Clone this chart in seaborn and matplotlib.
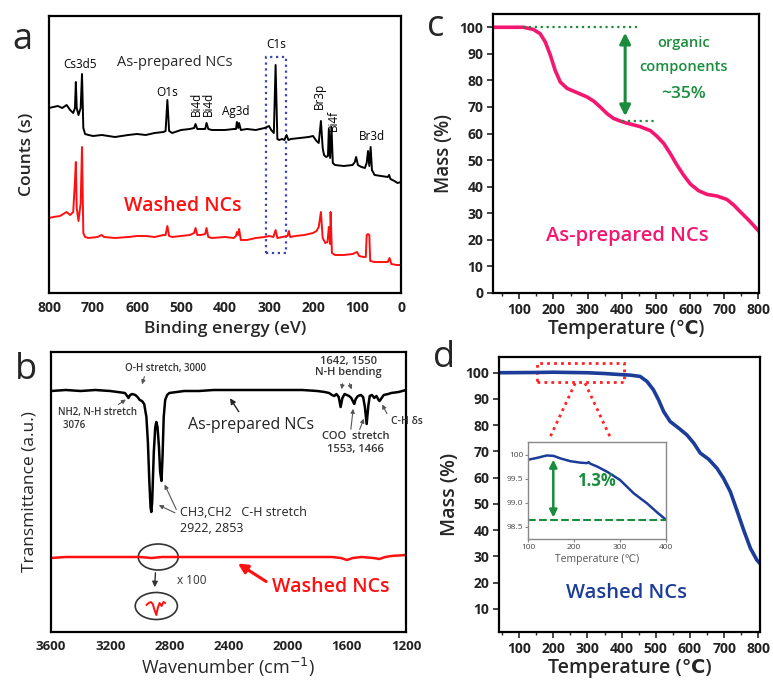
import matplotlib
matplotlib.use("Agg")
import matplotlib.pyplot as plt
import seaborn as sns
from matplotlib.patches import Rectangle, Ellipse
from matplotlib.ticker import MultipleLocator

# ---------------- data ----------------
# (a) XPS survey, binding energy (eV) vs counts (arb.)
a_black_E = [800,790,780,770,760,752,745,741,739,737,733,728,725,722,718,710,700,680,650,620,600,580,560,540,535,531,527,520,500,480,470,467,463,455,445,442,438,430,400,380,375,373,370,368,364,350,330,310,300,295,289,285,281,277,270,265,260,256,250,230,210,200,192,187,182,178,175,170,166,164,161,158,155,150,130,110,105,102,98,90,82,78,75,72,69,66,60,45,30,27,24,15,8,0]
a_black_C = [185,186,187,185,188,183,180,185,211,185,178,185,219,165,159,158,157,158,156,158,159,158,160,161,162,193,162,160,163,164,165,169,164,164,164,170,164,163,163,164,164,171,165,170,163,164,163,165,167,163,160,228,154,153,154,153,158,153,154,155,156,157,152,150,172,145,138,136,137,164,135,166,130,128,127,128,131,136,128,126,125,130,142,127,146,123,118,117,116,118,114,112,110,111]
a_red_E = [800,790,775,760,752,745,741,739,737,733,728,725,722,718,710,690,680,675,650,620,600,580,560,540,535,531,527,520,500,480,470,467,463,455,445,442,438,430,400,380,375,373,370,368,364,350,330,310,300,290,285,281,270,258,255,252,240,220,200,192,187,182,178,172,167,164,161,160,157,150,130,110,100,95,85,80,78,75,72,70,60,45,30,26,22,10,0]
a_red_C = [75,76,77,81,78,81,112,131,85,72,90,146,60,56,55,56,58,56,55,56,57,57,56,58,58,67,57,56,57,58,60,65,58,58,59,65,56,55,56,55,57,61,58,64,53,53,55,56,57,56,63,55,56,57,62,56,57,58,60,62,66,81,55,50,51,66,49,81,40,38,38,39,41,37,36,36,58,59,58,32,31,31,31,35,29,28,28]
a_ticks = [800, 700, 600, 500, 400, 300, 200, 100, 0]

# (b) FTIR, wavenumber (cm-1) vs transmittance (arb.)
b_black_W = [3600,3500,3400,3300,3200,3150,3100,3085,3076,3065,3050,3030,3015,3000,2985,2970,2955,2945,2935,2927,2922,2916,2905,2895,2888,2880,2870,2862,2853,2846,2838,2828,2815,2800,2750,2700,2600,2500,2400,2300,2200,2100,2000,1900,1800,1750,1720,1700,1685,1670,1655,1642,1630,1615,1600,1585,1570,1560,1550,1540,1525,1505,1490,1478,1466,1455,1445,1430,1415,1400,1385,1378,1365,1350,1320,1300,1250,1200]
b_black_T = [241,242,241,242,241,240,239,236,234,237,238,237,235,232,231,228,215,190,150,125,120,130,180,205,210,205,185,160,151,175,215,232,237,239,240,241,241,242,242,242,242,242,242,242,241,240,239,237,236,238,235,225,234,238,237,236,234,231,228,233,236,237,235,225,208,226,236,237,234,236,232,231,234,237,238,239,240,242]
b_red_W = [3600,3500,3400,3300,3200,3100,3000,2920,2850,2700,2500,2300,2100,1900,1700,1640,1600,1560,1500,1420,1380,1340,1300,1200]
b_red_T = [74,75,75,75,75,75,75,74,75,75,75,75,75,75,75,74,72,74,75,74,73,75,76,77]
b_zoom_W = [2955,2940,2925,2912,2900,2888,2878,2866,2852,2840,2828]
b_zoom_T = [27,29,30,28,22,17,24,29,26,30,29]
b_ticks = [3600, 3200, 2800, 2400, 2000, 1600, 1200]

# (c) TGA as-prepared NCs
c_temp = [23,112,141,161,176,191,205,220,240,269,298,318,337,357,376,396,415,425,454,484,503,523,542,562,581,601,625,650,679,708,728,747,772,802]
c_mass = [100,100,99.2,97.6,94.5,89.5,83.8,79.4,77.0,75.4,73.8,72.2,70.0,67.5,65.7,64.7,63.9,63.6,62.6,61.1,59.0,56.3,52.5,48.1,44.4,41.0,38.5,37.1,36.5,35.2,33.1,30.6,27.4,23.2]

# (d) TGA washed NCs
d_temp = [41,150,200,250,300,350,396,425,454,474,493,508,523,542,567,591,611,630,655,679,698,718,737,757,777,796,805]
d_mass = [100,100.1,100.2,100.1,100,99.7,99.3,99.1,98.6,96.7,93.5,89.7,85.2,81.4,78.9,76.3,73.2,69.4,67.0,63.6,59.8,54.7,47.7,40.1,33.1,28.6,27.3]
d_in_temp = [100,120,141,156,170,192,214,228,232,235,250,272,300,330,359,380,400]
d_in_mass = [99.90,99.94,99.99,99.98,99.93,99.87,99.84,99.83,99.85,99.82,99.76,99.65,99.48,99.20,98.99,98.81,98.65]
tga_ticks = [100, 200, 300, 400, 500, 600, 700, 800]

# ---------------- style ----------------
sns.set_theme(style="ticks")
plt.rcParams['font.family'] = ['Open Sans', 'DejaVu Sans']
plt.rcParams['axes.linewidth'] = 1.6
plt.rcParams['axes.edgecolor'] = 'black'
plt.rcParams['lines.solid_joinstyle'] = 'round'
plt.rcParams['lines.solid_capstyle'] = 'round'

W, H = 773, 696
fig = plt.figure(figsize=(W / 100, H / 100), dpi=100)


def rect(x0, y0, x1, y1):
    return [x0 / W, 1 - y1 / H, (x1 - x0) / W, (y1 - y0) / H]


TICKFS = 10
LABFS = 12.5
TW = 'bold'
GREEN = '#1a8c3c'
PINK = '#f5166f'
BLUE = '#1c3c9a'
GRAY = '#333333'
TCOL = '#222222'

# ---------------- (a) ----------------
axa = fig.add_axes(rect(49, 16, 401, 293))
sns.lineplot(x=a_black_E, y=a_black_C, ax=axa, color='black', lw=1.4, estimator=None, sort=False)
sns.lineplot(x=a_red_E, y=a_red_C, ax=axa, color='#ff1010', lw=1.4, estimator=None, sort=False)
axa.set_xlim(800, 0)
axa.set_ylim(0, 277)
axa.set_xticks(a_ticks, labels=[str(t) for t in a_ticks], fontweight=TW, fontsize=TICKFS, color=TCOL)
axa.set_yticks([])
axa.tick_params(axis='x', length=0, pad=6)
axa.set_xlabel('Binding energy (eV)', fontsize=LABFS, fontweight='semibold', labelpad=4)
axa.set_ylabel('Counts (s)', fontsize=LABFS, fontweight='semibold', labelpad=10)
kw = dict(ha='center', va='center', fontsize=8.5, color='black')
axa.text(730, 229, 'Cs3d5', **kw)
axa.text(514, 230, 'As-prepared NCs', ha='center', va='center', fontsize=10.5)
axa.text(532, 200, 'O1s', **kw)
axa.text(466, 189, 'Bi4d', rotation=90, **kw)
axa.text(438, 189, 'Bi4d', rotation=90, **kw)
axa.text(375, 181, 'Ag3d', **kw)
axa.text(284, 249, 'C1s', **kw)
axa.text(186, 197, 'Br3p', rotation=90, **kw)
axa.text(153, 173, 'Bi4f', rotation=90, **kw)
axa.text(66, 156, 'Br3d', **kw)
axa.text(495, 87, 'Washed NCs', ha='center', va='center', fontsize=14,
         color='#ff1010', fontweight='semibold')
axa.add_patch(Rectangle((307, 40), -46, 196, fill=False, ls=':', lw=1.6, ec='#3a45b0'))

# ---------------- (b) ----------------
axb = fig.add_axes(rect(51, 352, 406, 632))
sns.lineplot(x=b_black_W, y=b_black_T, ax=axb, color='black', lw=1.8, estimator=None, sort=False)
sns.lineplot(x=b_red_W, y=b_red_T, ax=axb, color='#ff1010', lw=1.8, estimator=None, sort=False)
sns.lineplot(x=b_zoom_W, y=b_zoom_T, ax=axb, color='#ff1010', lw=1.4, estimator=None, sort=False)
axb.set_xlim(3600, 1200)
axb.set_ylim(0, 280)
axb.set_xticks(b_ticks, labels=[str(t) for t in b_ticks], fontweight=TW, fontsize=TICKFS - 0.5, color=TCOL)
axb.set_yticks([])
axb.tick_params(axis='x', length=0, pad=6)
axb.set_xlabel('Wavenumber (cm$^{-1}$)', fontsize=LABFS + 0.5, labelpad=2)
axb.set_ylabel('Transmittance (a.u.)', fontsize=LABFS, labelpad=10)
ak = dict(arrowstyle='-|>', color='#555555', lw=0.8, mutation_scale=6)
axb.text(2827, 263, 'O-H stretch, 3000', ha='center', va='center', fontsize=7, color=GRAY, fontweight='semibold')
axb.annotate('', xy=(2990, 245), xytext=(2963, 258), arrowprops=ak)
axb.text(3555, 213, 'NH2, N-H stretch\n  3076', ha='left', va='center', fontsize=7, color=GRAY,
         fontweight='semibold', linespacing=1.2)
axb.annotate('', xy=(3078, 234), xytext=(3160, 226), arrowprops=ak)
axb.text(2250, 207, 'As-prepared NCs', ha='center', va='center', fontsize=11.5, color='#222222')
axb.annotate('', xy=(2400, 236), xytext=(2320, 218), arrowprops=dict(arrowstyle='-|>', color='#222222', lw=1.0, mutation_scale=8))
axb.text(2725, 112, 'CH3,CH2   C-H stretch\n2922, 2853', ha='left', va='center', fontsize=9,
         color='#222222', linespacing=1.3)
axb.annotate('', xy=(2888, 128), xytext=(2745, 118), arrowprops=ak)
axb.annotate('', xy=(2840, 150), xytext=(2745, 120), arrowprops=ak)
axb.text(1590, 265, '1642, 1550\nN-H bending', ha='center', va='center', fontsize=8, color=GRAY,
         fontweight='semibold', linespacing=1.1)
axb.annotate('', xy=(1640, 240), xytext=(1625, 251), arrowprops=ak)
axb.annotate('', xy=(1560, 240), xytext=(1590, 251), arrowprops=ak)
axb.text(1540, 189, 'COO  stretch\n1553, 1466', ha='center', va='center', fontsize=8, color=GRAY,
         fontweight='semibold', linespacing=1.3)
axb.annotate('', xy=(1555, 226), xytext=(1575, 200), arrowprops=ak)
axb.annotate('', xy=(1478, 216), xytext=(1520, 200), arrowprops=ak)
axb.text(1300, 210, 'C-H δs', ha='left', va='center', fontsize=7.5, color=GRAY, fontweight='semibold')
axb.annotate('', xy=(1370, 230), xytext=(1320, 216), arrowprops=ak)
axb.add_patch(Ellipse((2875, 75), 270, 26, fill=False, ec='#333333', lw=1.2))
axb.add_patch(Ellipse((2888, 26), 285, 27, fill=False, ec='#333333', lw=1.2))
axb.annotate('', xy=(2900, 42), xytext=(2893, 62),
             arrowprops=dict(arrowstyle='-|>', color='#333333', lw=1.0, mutation_scale=8))
axb.text(2750, 51, 'x 100', ha='left', va='center', fontsize=8.5, color=GRAY)
axb.text(1708, 45, 'Washed NCs', ha='center', va='center', fontsize=14, color='#ff1010',
         fontweight='semibold')
axb.annotate('', xy=(2352, 70), xytext=(2130, 49),
             arrowprops=dict(arrowstyle='-|>', color='#ff1010', lw=2.2, mutation_scale=14))

# ---------------- (c) ----------------
axc = fig.add_axes(rect(493, 14, 759, 293))
sns.lineplot(x=c_temp, y=c_mass, ax=axc, color=PINK, lw=2.6, estimator=None, sort=False)
axc.set_xlim(23, 802)
axc.set_ylim(0, 105)
axc.set_xticks(tga_ticks, labels=[str(t) for t in tga_ticks], fontweight=TW, fontsize=TICKFS, color=TCOL)
axc.set_yticks(range(0, 101, 10), labels=[str(t) for t in range(0, 101, 10)], fontweight=TW,
               fontsize=TICKFS, color=TCOL)
axc.xaxis.set_minor_locator(MultipleLocator(50))
axc.tick_params(axis='both', direction='out', length=4, width=1.2, pad=3)
axc.tick_params(axis='x', which='minor', direction='out', length=2.5, width=1)
axc.set_xlabel('Temperature (℃)', fontsize=LABFS + 1, fontweight='semibold', labelpad=2)
axc.set_ylabel('Mass (%)', fontsize=LABFS + 1, fontweight='semibold', labelpad=4)
axc.plot([110, 445], [100, 100], ls=':', color=GREEN, lw=1.6)
axc.plot([400, 502], [64.9, 64.9], ls=':', color=GREEN, lw=1.6)
axc.annotate('', xy=(410, 99), xytext=(410, 65.5),
             arrowprops=dict(arrowstyle='<|-|>', color=GREEN, lw=2.2, mutation_scale=16))
axc.text(580, 94, 'organic', ha='center', va='center', fontsize=10.5, color=GREEN, fontweight='semibold')
axc.text(580, 85.2, 'components', ha='center', va='center', fontsize=10.5, color=GREEN, fontweight='semibold')
axc.text(580, 75, '~35%', ha='center', va='center', fontsize=12.5, color=GREEN, fontweight='semibold')
axc.text(415, 21.3, 'As-prepared NCs', ha='center', va='center', fontsize=14.5, color=PINK,
         fontweight='semibold')

# ---------------- (d) ----------------
axd = fig.add_axes(rect(499, 357, 760, 632))
sns.lineplot(x=d_temp, y=d_mass, ax=axd, color=BLUE, lw=2.6, estimator=None, sort=False)
axd.set_xlim(41, 805)
axd.set_ylim(1.2, 106)
axd.set_xticks(tga_ticks, labels=[str(t) for t in tga_ticks], fontweight=TW, fontsize=TICKFS, color=TCOL)
axd.set_yticks(range(10, 101, 10), labels=[str(t) for t in range(10, 101, 10)], fontweight=TW,
               fontsize=TICKFS, color=TCOL)
axd.xaxis.set_minor_locator(MultipleLocator(50))
axd.tick_params(axis='both', direction='out', length=4, width=1.2, pad=3)
axd.tick_params(axis='x', which='minor', direction='out', length=2.5, width=1)
axd.set_xlabel('Temperature (℃)', fontsize=LABFS + 1.5, fontweight='semibold', labelpad=2)
axd.set_ylabel('Mass (%)', fontsize=LABFS + 1.5, fontweight='semibold', labelpad=4)
axd.add_patch(Rectangle((152, 96.3), 255, 7.5, fill=False, ls=(0, (1, 1.5)), lw=2, ec='#ff2020'))
axd.plot([264, 191], [96, 75.6], ls=(0, (1, 1.5)), color='#ff2020', lw=2)
axd.plot([293, 366], [96, 75.6], ls=(0, (1, 1.5)), color='#ff2020', lw=2)
axd.text(415, 15.9, 'Washed NCs', ha='center', va='center', fontsize=14.5, color=BLUE,
         fontweight='semibold')

# inset
axi = fig.add_axes(rect(528, 442, 666, 539))
sns.lineplot(x=d_in_temp, y=d_in_mass, ax=axi, color=BLUE, lw=1.8, estimator=None, sort=False)
axi.set_xlim(100, 400)
axi.set_ylim(98.25, 100.27)
axi.set_xticks([100, 200, 300, 400])
axi.set_yticks([98.5, 99.0, 99.5, 100])
axi.set_yticklabels(['98.5', '99.0', '99.5', '100'])
for s in axi.spines.values():
    s.set_color('#888888')
    s.set_linewidth(1.0)
axi.tick_params(axis='both', direction='out', length=2, width=0.8, labelsize=6, pad=1.5,
                color='#888888', labelcolor='#444444')
axi.set_xlabel('Temperature (℃)', fontsize=7.5, color='#555555', labelpad=2)
axi.set_ylabel('')
axi.plot([100, 400], [98.64, 98.64], ls='--', color=GREEN, lw=1.5)
axi.annotate('', xy=(155, 99.96), xytext=(155, 98.64),
             arrowprops=dict(arrowstyle='<|-|>', color=GREEN, lw=1.8, mutation_scale=11))
axi.text(248, 99.46, '1.3%', ha='center', va='center', fontsize=12, color=GREEN, fontweight='bold')

# panel letters
fig.text(22 / W, 1 - 40 / H, 'a', fontsize=26, ha='center', va='center')
fig.text(26 / W, 1 - 370 / H, 'b', fontsize=26, ha='center', va='center')
fig.text(436 / W, 1 - 27 / H, 'c', fontsize=26, ha='center', va='center')
fig.text(444 / W, 1 - 358 / H, 'd', fontsize=26, ha='center', va='center')

fig.savefig('out.png', dpi=100, facecolor='white')
